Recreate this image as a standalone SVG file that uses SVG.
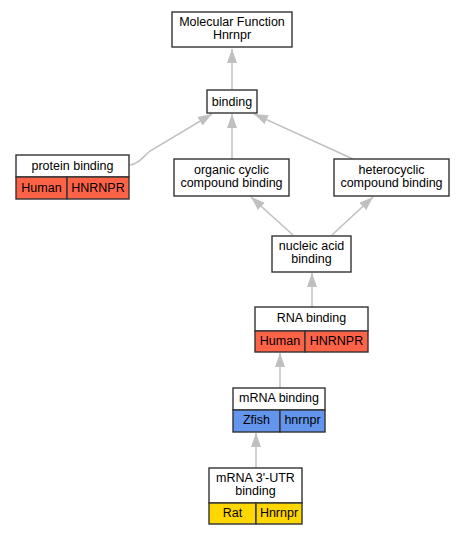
<svg xmlns="http://www.w3.org/2000/svg" width="465" height="536" viewBox="0 0 465 536">
<style>
.box{fill:#fff;stroke:#333;stroke-width:1.4}
.hum{fill:#ff6347;stroke:#333;stroke-width:1.4}
.zf{fill:#6495ed;stroke:#333;stroke-width:1.4}
.rat{fill:#ffd700;stroke:#333;stroke-width:1.4}
text{font-family:"Liberation Sans",Arial,sans-serif;font-size:12.5px;fill:#000;text-anchor:middle}
.e{fill:none;stroke:#c0c0c0;stroke-width:1.5}
</style>
<defs>
<marker id="a" markerUnits="userSpaceOnUse" markerWidth="16" markerHeight="12" refX="14" refY="5.5" orient="auto" viewBox="0 0 16 12">
<path d="M0,0.5 L14,5.5 L0,10.5 Z" fill="#c0c0c0"/>
</marker>
</defs>
<g id="edges">
<path class="e" d="M232,90 L232,49" marker-end="url(#a)"/>
<path class="e" d="M130,165 C138,164 142,158 150,151 L212,114" marker-end="url(#a)"/>
<path class="e" d="M232,159 L232,114" marker-end="url(#a)"/>
<path class="e" d="M353,159 L254,114" marker-end="url(#a)"/>
<path class="e" d="M293,235 L251,197" marker-end="url(#a)"/>
<path class="e" d="M332,235 L373,197" marker-end="url(#a)"/>
<path class="e" d="M312,307 L312,273" marker-end="url(#a)"/>
<path class="e" d="M280,388 L280,353" marker-end="url(#a)"/>
<path class="e" d="M256,468 L256,433" marker-end="url(#a)"/>
</g>
<g id="mf">
<rect class="box" x="172" y="12" width="120" height="35"/>
<text x="232" y="26">Molecular Function</text>
<text x="232" y="39">Hnrnpr</text>
</g>
<g id="binding">
<rect class="box" x="207" y="90" width="50" height="23"/>
<text x="232" y="106">binding</text>
</g>
<g id="protein">
<rect class="box" x="16" y="155" width="113" height="22"/>
<text x="72.5" y="170">protein binding</text>
<rect class="hum" x="16" y="177" width="51" height="22"/>
<rect class="hum" x="67" y="177" width="62" height="22"/>
<text x="41.5" y="192">Human</text>
<text x="98" y="192">HNRNPR</text>
</g>
<g id="organic">
<rect class="box" x="174" y="159" width="115" height="37"/>
<text x="231.5" y="174">organic cyclic</text>
<text x="231.5" y="187">compound binding</text>
</g>
<g id="hetero">
<rect class="box" x="334" y="159" width="115" height="37"/>
<text x="391.5" y="174">heterocyclic</text>
<text x="391.5" y="187">compound binding</text>
</g>
<g id="nucleic">
<rect class="box" x="272" y="236" width="79" height="36"/>
<text x="311.5" y="250">nucleic acid</text>
<text x="311.5" y="263">binding</text>
</g>
<g id="rna">
<rect class="box" x="255" y="307" width="113" height="24"/>
<text x="311.5" y="322">RNA binding</text>
<rect class="hum" x="255" y="331" width="50" height="21"/>
<rect class="hum" x="305" y="331" width="63" height="21"/>
<text x="280" y="345">Human</text>
<text x="336.5" y="345">HNRNPR</text>
</g>
<g id="mrna">
<rect class="box" x="233" y="388" width="92" height="22"/>
<text x="279" y="402">mRNA binding</text>
<rect class="zf" x="233" y="410" width="47" height="22"/>
<rect class="zf" x="280" y="410" width="45" height="22"/>
<text x="256.5" y="424">Zfish</text>
<text x="302.5" y="424">hnrnpr</text>
</g>
<g id="utr">
<rect class="box" x="209" y="468" width="93" height="35"/>
<text x="255.5" y="482">mRNA 3'-UTR</text>
<text x="255.5" y="495">binding</text>
<rect class="rat" x="209" y="503" width="47" height="21"/>
<rect class="rat" x="256" y="503" width="46" height="21"/>
<text x="232.5" y="517">Rat</text>
<text x="279" y="517">Hnrnpr</text>
</g>
</svg>
